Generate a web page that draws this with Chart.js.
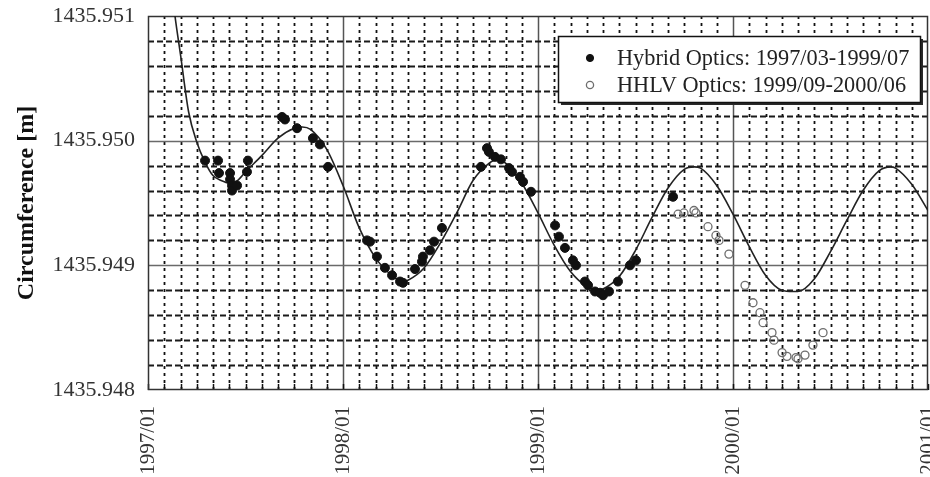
<!DOCTYPE html>
<html><head><meta charset="utf-8">
<script src="https://cdn.jsdelivr.net/npm/chart.js@4/dist/chart.umd.min.js"></script>
<style>html,body{margin:0;padding:0;background:#fff;overflow:hidden}</style>
</head><body>
<canvas id="c" width="930" height="477"></canvas>
<script>
// x values are months since 1997/01
const curveMonths = [1.4,1.66,2,2.5,3,3.5,4,4.5,5,5.5,6,7,8,9,9.5,10,11,12,13,14,15,15.7,16,17,18,19,20,21,21.5,22,23,24,25,26,27,27.7,28,29,30,31,32,33,33.6,34,35,36,37,38,39,39.7,40,41,42,43,44,45,45.7,46,47,48];
const curveValues = [1435.95129,1435.95100,1435.95069,1435.95023,1435.94999,1435.94983,1435.94972,1435.94968,1435.94966,1435.94968,1435.94975,1435.94988,1435.95002,1435.95010,1435.95011,1435.95009,1435.94993,1435.94964,1435.94930,1435.94906,1435.94892,1435.94887,1435.94888,1435.94898,1435.94918,1435.94942,1435.94968,1435.94982,1435.94985,1435.94982,1435.94966,1435.94942,1435.94916,1435.94895,1435.94883,1435.94880,1435.94881,1435.94891,1435.94912,1435.94938,1435.94962,1435.94977,1435.94979,1435.94978,1435.94964,1435.94941,1435.94915,1435.94892,1435.94880,1435.94879,1435.94879,1435.94889,1435.94911,1435.94936,1435.94960,1435.94976,1435.94979,1435.94978,1435.94965,1435.94944];

const hybridMonths = [3.51,4.31,4.37,5.05,5.05,5.17,5.17,5.48,6.09,6.15,8.25,8.43,9.17,10.15,10.58,11.08,13.48,13.66,14.09,14.58,15.02,15.51,15.69,16.43,16.86,16.92,17.35,17.60,18.09,20.49,20.86,20.98,21.35,21.72,22.22,22.40,22.89,23.08,23.57,25.05,25.29,25.66,26.15,26.34,26.89,27.08,27.51,27.82,28.00,28.37,28.92,29.66,30.03,32.31];
const hybridValues = [1435.94984,1435.94984,1435.94974,1435.94974,1435.94969,1435.94964,1435.94960,1435.94964,1435.94975,1435.94984,1435.95019,1435.95017,1435.95010,1435.95002,1435.94997,1435.94979,1435.94920,1435.94919,1435.94907,1435.94898,1435.94892,1435.94887,1435.94886,1435.94897,1435.94903,1435.94907,1435.94912,1435.94919,1435.94930,1435.94979,1435.94994,1435.94991,1435.94987,1435.94985,1435.94978,1435.94975,1435.94971,1435.94967,1435.94959,1435.94932,1435.94923,1435.94914,1435.94904,1435.94900,1435.94887,1435.94884,1435.94879,1435.94878,1435.94876,1435.94879,1435.94887,1435.94900,1435.94904,1435.94955];

const hhlvMonths = [32.62,32.98,33.60,33.72,34.46,34.95,35.14,35.75,36.74,37.23,37.66,37.85,38.40,38.52,39.02,39.32,39.88,40.00,40.43,40.92,41.54];
const hhlvValues = [1435.94941,1435.94942,1435.94944,1435.94942,1435.94931,1435.94924,1435.94920,1435.94909,1435.94884,1435.94870,1435.94862,1435.94854,1435.94846,1435.94840,1435.94830,1435.94827,1435.94826,1435.94825,1435.94828,1435.94836,1435.94846];

const xTickMonths = [0,12,24,36,48];
const xTickLabels = ['1997/01','1998/01','1999/01','2000/01','2001/01'];
const yTickValues = [1435.948,1435.949,1435.950,1435.951];
const yTickLabels = ['1435.948','1435.949','1435.950','1435.951'];
const legendLabels = ['Hybrid Optics: 1997/03-1999/07','HHLV Optics: 1999/09-2000/06'];
const yAxisTitle = 'Circumference [m]';

const pts = (xs, ys) => xs.map((x, i) => ({x: x, y: ys[i]}));
const SERIF = "'Liberation Serif','Times New Roman',serif";
const isMajorY = v => yTickValues.some(t => Math.abs(t - v) < 1e-7);

const gridPlugin = {
  id: 'paperGrid',
  beforeDatasetsDraw(chart) {
    const {ctx, chartArea: a, scales: {x, y}} = chart;
    ctx.save();
    // vertical month lines
    x.ticks.forEach(t => {
      const px = Math.round(x.getPixelForValue(t.value)) + 0.5;
      if (px <= a.left + 1 || px >= a.right - 1) return;
      const major = xTickMonths.indexOf(t.value) >= 0;
      ctx.beginPath();
      if (major) { ctx.setLineDash([]); ctx.strokeStyle = '#555'; ctx.lineWidth = 1.5; }
      else { ctx.setLineDash([3, 4]); ctx.strokeStyle = '#111'; ctx.lineWidth = 1.8; }
      ctx.moveTo(px, a.top); ctx.lineTo(px, a.bottom); ctx.stroke();
    });
    // horizontal lines
    y.ticks.forEach(t => {
      const py = Math.round(y.getPixelForValue(t.value)) + 0.5;
      if (py <= a.top + 1 || py >= a.bottom - 1) return;
      ctx.beginPath();
      if (isMajorY(t.value)) { ctx.setLineDash([]); ctx.strokeStyle = '#6a6a6a'; ctx.lineWidth = 1.5; }
      else { ctx.setLineDash([6, 3]); ctx.strokeStyle = '#1a1a1a'; ctx.lineWidth = 2; }
      ctx.moveTo(a.left, py); ctx.lineTo(a.right, py); ctx.stroke();
    });
    // inner tick marks on bottom axis
    ctx.setLineDash([]);
    ctx.strokeStyle = '#111'; ctx.lineWidth = 1.5;
    x.ticks.forEach(t => {
      const px = Math.round(x.getPixelForValue(t.value)) + 0.5;
      ctx.beginPath(); ctx.moveTo(px, a.bottom); ctx.lineTo(px, a.bottom - 6); ctx.stroke();
    });
    // frame
    ctx.strokeStyle = '#333'; ctx.lineWidth = 1.5;
    ctx.strokeRect(a.left + 0.5, a.top + 0.5, a.right - a.left - 1, a.bottom - a.top - 1);
    ctx.restore();
  }
};

const legendPlugin = {
  id: 'boxLegend',
  afterDatasetsDraw(chart) {
    const {ctx, chartArea: a} = chart;
    const w = 362, h = 66;
    const x0 = a.right - 370, y0 = a.top + 20;
    ctx.save();
    ctx.fillStyle = '#2a2a2a';
    ctx.fillRect(x0 + 3, y0 + 3, w, h);
    ctx.fillStyle = '#fff';
    ctx.fillRect(x0, y0, w, h);
    ctx.strokeStyle = '#111'; ctx.lineWidth = 1.5;
    ctx.strokeRect(x0 + 0.5, y0 + 0.5, w, h);
    const rows = [chart.data.datasets[1], chart.data.datasets[2]];
    rows.forEach((ds, i) => {
      const cy = y0 + 22 + i * 27;
      ctx.beginPath();
      ctx.arc(x0 + 32, cy, 3.6, 0, Math.PI * 2);
      ctx.fillStyle = ds.backgroundColor; ctx.fill();
      ctx.strokeStyle = ds.borderColor; ctx.lineWidth = ds.borderWidth; ctx.stroke();
      ctx.fillStyle = '#222';
      ctx.font = "22.3px " + SERIF;
      ctx.textBaseline = 'middle'; ctx.textAlign = 'left';
      ctx.fillText(legendLabels[i], x0 + 59, cy + 1);
    });
    ctx.restore();
  }
};

new Chart(document.getElementById('c'), {
  type: 'scatter',
  data: {
    datasets: [
      { type: 'line', label: 'fit', data: pts(curveMonths, curveValues), borderColor: '#222', borderWidth: 1.6,
        pointRadius: 0, fill: false, cubicInterpolationMode: 'monotone', order: 3 },
      { label: legendLabels[0], data: pts(hybridMonths, hybridValues), backgroundColor: '#111', borderColor: '#111',
        borderWidth: 1, pointRadius: 4.5, order: 1 },
      { label: legendLabels[1], data: pts(hhlvMonths, hhlvValues), backgroundColor: 'rgba(255,255,255,0)', borderColor: '#6e6e6e',
        borderWidth: 1.3, pointRadius: 4, order: 2 }
    ]
  },
  options: {
    responsive: false,
    animation: false,
    events: [],
    layout: { autoPadding: false, padding: { top: 16, right: 2, bottom: 0, left: 0 } },
    plugins: { legend: { display: false }, tooltip: { enabled: false } },
    scales: {
      x: {
        type: 'linear', min: 0, max: 48,
        grid: { display: false, drawTicks: false }, border: { display: false },
        ticks: {
          stepSize: 1, autoSkip: false, maxRotation: 90, minRotation: 90, padding: 16,
          color: '#333', font: { family: SERIF, size: 21 },
          callback: v => { const i = xTickMonths.indexOf(v); return i >= 0 ? xTickLabels[i] : ''; }
        },
        afterFit(s) { s.height = 87; s.paddingLeft = 0; s.paddingRight = 0; }
      },
      y: {
        type: 'linear', min: 1435.948, max: 1435.951,
        grid: { display: false, drawTicks: false }, border: { display: false },
        ticks: {
          stepSize: 0.0002, autoSkip: false, padding: 13,
          color: '#333', font: { family: SERIF, size: 22 },
          callback: v => { const i = yTickValues.findIndex(t => Math.abs(t - v) < 1e-7); return i >= 0 ? yTickLabels[i] : ''; }
        },
        title: { display: true, text: yAxisTitle, color: '#111', font: { family: SERIF, size: 24, weight: 'bold' }, padding: { top: 12, bottom: 0 } },
        afterFit(s) { s.width = 148; s.paddingTop = 0; s.paddingBottom = 0; }
      }
    }
  },
  plugins: [gridPlugin, legendPlugin]
});
</script>
</body></html>
